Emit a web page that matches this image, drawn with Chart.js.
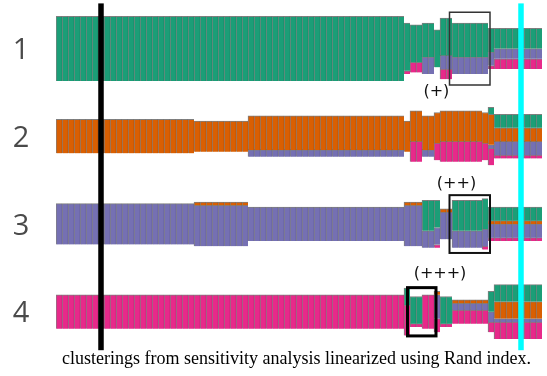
<!DOCTYPE html>
<html>
<head>
<meta charset="utf-8">
<script src="https://cdn.jsdelivr.net/npm/chart.js@4.4.1/dist/chart.umd.min.js"></script>
<style>
  html, body { margin: 0; padding: 0; background: #fff; }
  #wrap { width: 547px; height: 376px; }
</style>
</head>
<body>
<div id="wrap"><canvas id="chart" width="547" height="376"></canvas></div>
<script>
// runs of identical columns (parameter settings), left to right
var groupWidths = [23, 9, 26, 1, 2, 2, 1, 2, 5, 1, 1, 8];

var rowLabels = ['1', '2', '3', '4'];
var colors = ['#1b9e77', '#d95f02', '#7570b3', '#e7298a'];

// number of items in each run, per cluster row and reference colour
var row1Green  = [19, 19, 19, 14, 11, 10, 11, 11, 10, 10, 7, 6];
var row1Orange = [0, 0, 0, 0, 0, 0, 0, 0, 0, 0, 0, 0];
var row1Purple = [0, 0, 0, 0, 0, 5, 0, 4, 5, 5, 4, 3];
var row1Pink   = [0, 0, 0, 1, 3, 0, 0, 3, 0, 0, 1, 3];

var row2Green  = [0, 0, 0, 0, 0, 0, 0, 0, 0, 0, 2, 4];
var row2Orange = [10, 9, 10, 9, 9, 10, 9, 9, 9, 9, 9, 4];
var row2Purple = [0, 0, 2, 0, 0, 2, 0, 0, 0, 0, 1, 4];
var row2Pink   = [0, 0, 0, 0, 6, 0, 5, 6, 6, 5, 5, 1];

var row3Green  = [0, 0, 0, 0, 0, 9, 8, 0, 9, 9, 4, 4];
var row3Orange = [0, 1, 0, 1, 1, 0, 0, 1, 0, 0, 1, 1];
var row3Purple = [12, 12, 10, 12, 12, 5, 5, 8, 5, 5, 4, 4];
var row3Pink   = [0, 0, 0, 0, 0, 0, 1, 0, 0, 1, 1, 1];

var row4Green  = [0, 0, 0, 5, 8, 0, 0, 8, 0, 0, 6, 5];
var row4Orange = [0, 0, 0, 0, 0, 0, 1, 0, 1, 1, 0, 5];
var row4Purple = [0, 0, 0, 0, 0, 0, 7, 0, 2, 2, 3, 1];
var row4Pink   = [10, 10, 10, 9, 1, 10, 4, 1, 4, 4, 3, 5];

var rows = [
  [row1Green, row1Orange, row1Purple, row1Pink],
  [row2Green, row2Orange, row2Purple, row2Pink],
  [row3Green, row3Orange, row3Purple, row3Pink],
  [row4Green, row4Orange, row4Purple, row4Pink]
];

var caption = 'clusterings from sensitivity analysis linearized using Rand index.';

// layout (in item units)
var FIRST_ROW = 14.3;
var ROW_STEP = 25.8;
var PX_PER_ITEM = 3.4;

function rowCenter(r) { return FIRST_ROW + r * ROW_STEP; }

// expand runs to columns
var colGroup = [];
groupWidths.forEach(function(w, g) {
  for (var k = 0; k < w; k++) colGroup.push(g);
});
var columnLabels = colGroup.map(function(g, i) { return String(i + 1); });

var datasets = [];
rows.forEach(function(series, r) {
  series.forEach(function(values, c) {
    var data = colGroup.map(function(g) {
      if (!values[g]) return null;
      var total = 0, before = 0;
      for (var k = 0; k < 4; k++) {
        total += series[k][g];
        if (k < c) before += series[k][g];
      }
      var top = rowCenter(r) - total / 2 + before;
      return [top, top + values[g]];
    });
    datasets.push({
      data: data,
      backgroundColor: colors[c],
      borderColor: 'rgba(0,0,0,0.5)',
      borderWidth: {left: 1, right: 0, top: 1, bottom: 0},
      borderSkipped: false
    });
  });
});

var markers = [
  {col: 7, color: '#000000', from: 1, to: 103, width: 5.5},
  {col: 77, color: '#00ffff', from: 1, to: 103, width: 5.5}
];

var boxes = [
  {row: 0, from: 66, to: 71, half: 10.7, lineWidth: 1.5, color: '#333', label: '(+)', labelCol: 62.9, labelDy: 12.8},
  {row: 2, from: 66, to: 71, half: 8.5, lineWidth: 2, color: '#111', label: '(++)', labelCol: 66.25, labelDy: -11.7},
  {row: 3, from: 59, to: 62, half: 7.1, lineWidth: 3, color: '#000', label: '(+++)', labelCol: 63.5, labelDy: -11.1}
];

var decorations = {
  id: 'decorations',
  afterDatasetsDraw: function(chart) {
    var ctx = chart.ctx;
    var x = chart.scales.x, y = chart.scales.y;
    var half = x.getPixelForValue(1) - x.getPixelForValue(0);
    ctx.save();
    markers.forEach(function(m) {
      ctx.fillStyle = m.color;
      var px = x.getPixelForValue(m.col);
      var t = y.getPixelForValue(m.from), b = y.getPixelForValue(m.to);
      ctx.fillRect(px - m.width / 2, t, m.width, b - t);
    });
    boxes.forEach(function(bx) {
      var l = x.getPixelForValue(bx.from) - half / 2 - 2.5;
      var rr = x.getPixelForValue(bx.to) + half / 2 + 2;
      var t = y.getPixelForValue(rowCenter(bx.row) - bx.half);
      var b = y.getPixelForValue(rowCenter(bx.row) + bx.half);
      ctx.strokeStyle = bx.color;
      ctx.lineWidth = bx.lineWidth;
      ctx.strokeRect(l, t, rr - l, b - t);
      ctx.fillStyle = '#111';
      ctx.font = '16px "DejaVu Sans"';
      ctx.textAlign = 'center';
      ctx.textBaseline = 'middle';
      ctx.fillText(bx.label, x.getPixelForValue(bx.labelCol), y.getPixelForValue(rowCenter(bx.row) + bx.labelDy));
    });
    ctx.fillStyle = '#4a4a4a';
    ctx.font = '29px "Open Sans"';
    ctx.textAlign = 'center';
    ctx.textBaseline = 'alphabetic';
    rowLabels.forEach(function(lbl, r) {
      ctx.fillText(lbl, 21, y.getPixelForValue(rowCenter(r)) + 10.5);
    });
    ctx.fillStyle = '#000';
    ctx.font = '18px "Liberation Serif"';
    ctx.fillText(caption, 296.5, 364);
    ctx.restore();
  }
};

new Chart('chart', {
  type: 'bar',
  data: {labels: columnLabels, datasets: datasets},
  options: {
    responsive: false,
    animation: false,
    layout: {padding: {left: 56, right: 5, top: 0, bottom: 0}},
    datasets: {bar: {barPercentage: 1, categoryPercentage: 1, grouped: false}},
    plugins: {legend: {display: false}, tooltip: {enabled: false}},
    scales: {
      x: {display: false},
      y: {display: false, min: 0, max: 376 / PX_PER_ITEM, reverse: true}
    }
  },
  plugins: [decorations]
});
</script>
</body>
</html>
